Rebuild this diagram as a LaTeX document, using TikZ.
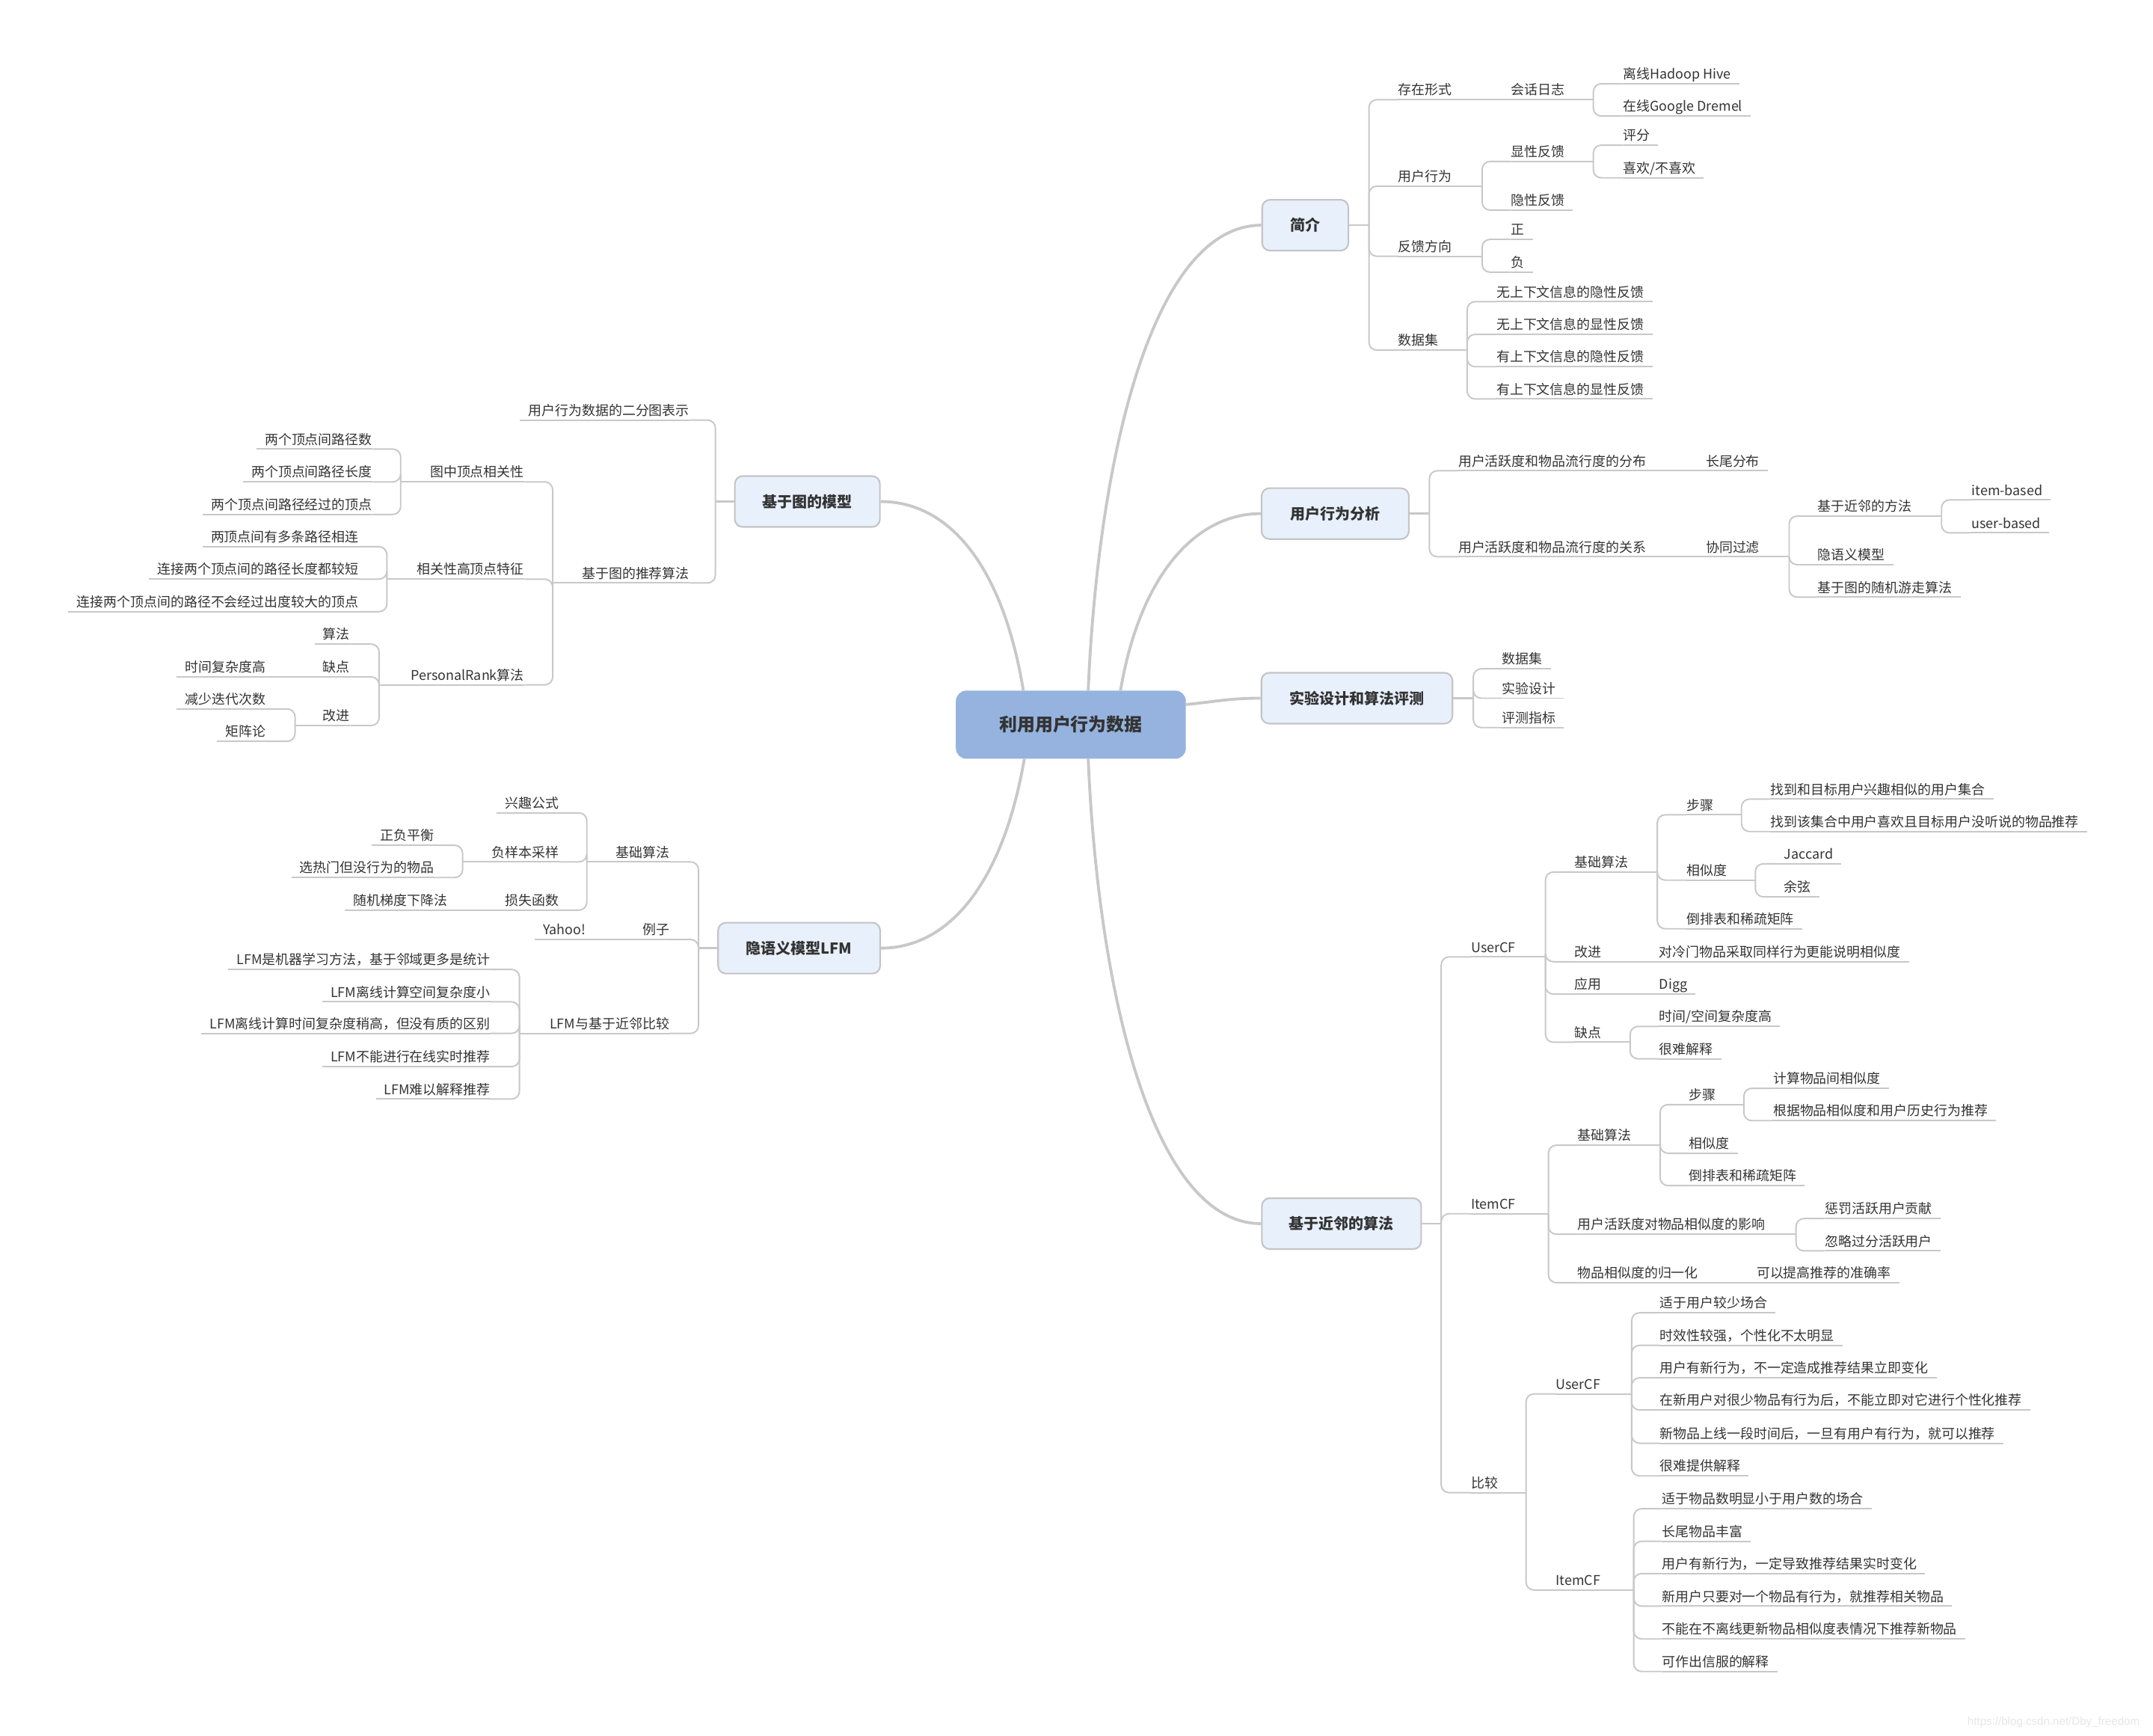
\documentclass[tikz,border=0pt]{standalone}
\usepackage{fontspec}
\setmainfont{Noto Sans CJK SC}
\newfontfamily\markfont{Liberation Sans}
\usepackage{tikz}
\definecolor{txt}{HTML}{333333}
\definecolor{lineg}{HTML}{C8C8C8}
\definecolor{topicf}{HTML}{E8F0FC}
\definecolor{topicd}{HTML}{C4C4C4}
\definecolor{rootf}{HTML}{95B3DE}
\definecolor{markg}{HTML}{E6E6E6}
\newcommand{\fleaf}{\fontsize{5.1pt}{6pt}\selectfont}
\newcommand{\ftopic}{\fontsize{5.7pt}{7pt}\selectfont\bfseries}
\newcommand{\froot}{\fontsize{6.8pt}{8pt}\selectfont\bfseries}

\begin{document}
\begin{tikzpicture}[
x=0.018361cm, y=-0.018361cm,
Limb/.style={draw=lineg, line width=1.1pt},
Stem/.style={draw=lineg, line width=0.7pt},
Twig/.style={draw=lineg, line width=0.55pt, rounded corners=3pt},
RootBox/.style={fill=rootf, rounded corners=4pt, text=txt, font=\froot,
  minimum width=3.074cm, minimum height=0.911cm, inner sep=0pt},
TopicBox/.style={draw=topicd, fill=topicf, line width=0.6pt, rounded corners=3pt,
  text=txt, font=\ftopic, minimum height=0.68cm, inner sep=0pt},
LeafR/.style={anchor=south west, inner xsep=0pt, inner ysep=1pt, text height=4.4pt,
  text depth=0.6pt, text=txt, font=\fleaf,
  append after command={(\tikzlastnode.south west) edge[Twig] ([xshift=3pt]\tikzlastnode.south east)}},
LeafL/.style={anchor=south east, inner xsep=0pt, inner ysep=1pt, text height=4.4pt,
  text depth=0.6pt, text=txt, font=\fleaf,
  append after command={([xshift=-3pt]\tikzlastnode.south west) edge[Twig] (\tikzlastnode.south east)}}
]
\useasboundingbox (0,0) rectangle (1568,1264);

% centre
\node[RootBox] (root) at (779.9,527.7) {利用用户行为数据};
\coordinate (R1) at (792.5,503);
\coordinate (R2) at (816,503);
\coordinate (R3) at (863.6,513);
\coordinate (R4) at (792.5,552.5);
\coordinate (R5) at (745.3,503);
\coordinate (R6) at (746,552.5);

\node[TopicBox, minimum width=1.153cm] (intro) at (950.6,164) {简介};
\node[TopicBox, minimum width=1.968cm] (ua) at (972.4,374) {用户行为分析};
\node[TopicBox, minimum width=2.554cm] (ex) at (988.2,508.4) {实验设计和算法评测};
\node[TopicBox, minimum width=2.13cm] (nb) at (977,891) {基于近邻的算法};
\node[TopicBox, minimum width=1.94cm] (gm) at (588,365.2) {基于图的模型};
\node[TopicBox, minimum width=2.167cm] (lfm) at (582,690.4) {隐语义模型LFM};

\draw[Limb] (R1) .. controls (800,330) and (840,164) .. (intro.west);
\draw[Limb] (R2) .. controls (830,420) and (870,374) .. (ua.west);
\draw[Limb] (R3) .. controls (885,511) and (895,508.4) .. (ex.west);
\draw[Limb] (R4) .. controls (800,725) and (840,891) .. (nb.west);
\draw[Limb] (R5) .. controls (730,410) and (690,365.2) .. (gm.east);
\draw[Limb] (R6) .. controls (730,645) and (690,690.4) .. (lfm.east);

%% ---- 简介
\coordinate (intro-s) at (997,164);
\draw[Stem] (intro.east) -- (intro-s);
\node[LeafR] (form) at (1018,72.6) {存在形式};
\node[LeafR] (beh) at (1018,135.5) {用户行为};
\node[LeafR] (fdir) at (1018,186.6) {反馈方向};
\node[LeafR] (dset) at (1018,255) {数据集};
\foreach \c in {form,beh,fdir,dset} \draw[Twig] (intro-s) |- (\c.south west);

\node[LeafR] (slog) at (1100,72.6) {会话日志};
\draw[Twig] (form.south east) -- (slog.south west);
\coordinate (slog-s) at (1160.4,72.6);
\draw[Twig] (slog.south east) -- (slog-s);
\node[LeafR] (hive) at (1181.6,61) {离线Hadoop Hive};
\node[LeafR] (dremel) at (1181.6,84.5) {在线Google Dremel};
\foreach \c in {hive,dremel} \draw[Twig] (slog-s) |- (\c.south west);

\coordinate (beh-s) at (1079.4,135.5);
\draw[Twig] (beh.south east) -- (beh-s);
\node[LeafR] (expl) at (1100,117.6) {显性反馈};
\node[LeafR] (impl) at (1100,153) {隐性反馈};
\foreach \c in {expl,impl} \draw[Twig] (beh-s) |- (\c.south west);

\coordinate (expl-s) at (1160.4,117.6);
\draw[Twig] (expl.south east) -- (expl-s);
\node[LeafR] (rate) at (1181.6,105.7) {评分};
\node[LeafR] (like) at (1181.6,129.5) {喜欢/不喜欢};
\foreach \c in {rate,like} \draw[Twig] (expl-s) |- (\c.south west);

\coordinate (fdir-s) at (1079.4,186.6);
\draw[Twig] (fdir.south east) -- (fdir-s);
\node[LeafR] (pos) at (1100,174.3) {正};
\node[LeafR] (neg) at (1100,198.2) {负};
\foreach \c in {pos,neg} \draw[Twig] (fdir-s) |- (\c.south west);

\coordinate (dset-s) at (1068.5,255);
\draw[Twig] (dset.south east) -- (dset-s);
\node[LeafR] (ds1) at (1089.5,219.7) {无上下文信息的隐性反馈};
\node[LeafR] (ds2) at (1089.5,243.5) {无上下文信息的显性反馈};
\node[LeafR] (ds3) at (1089.5,267) {有上下文信息的隐性反馈};
\node[LeafR] (ds4) at (1089.5,290.5) {有上下文信息的显性反馈};
\foreach \c in {ds1,ds2,ds3,ds4} \draw[Twig] (dset-s) |- (\c.south west);

%% ---- 用户行为分析
\coordinate (ua-s) at (1041,374);
\draw[Stem] (ua.east) -- (ua-s);
\node[LeafR] (dist) at (1061.7,342.8) {用户活跃度和物品流行度的分布};
\node[LeafR] (rel) at (1061.7,405.4) {用户活跃度和物品流行度的关系};
\foreach \c in {dist,rel} \draw[Twig] (ua-s) |- (\c.south west);

\node[LeafR] (ltail) at (1242,342.8) {长尾分布};
\draw[Twig] (dist.south east) -- (ltail.south west);
\node[LeafR] (cf) at (1242,405.4) {协同过滤};
\draw[Twig] (rel.south east) -- (cf.south west);

\coordinate (cf-s) at (1303,405.4);
\draw[Twig] (cf.south east) -- (cf-s);
\node[LeafR] (knn) at (1323.6,375.8) {基于近邻的方法};
\node[LeafR] (lsm) at (1323.6,411.2) {隐语义模型};
\node[LeafR] (walk) at (1323.6,434.8) {基于图的随机游走算法};
\foreach \c in {knn,lsm,walk} \draw[Twig] (cf-s) |- (\c.south west);

\coordinate (knn-s) at (1414,375.8);
\draw[Twig] (knn.south east) -- (knn-s);
\node[LeafR] (ib) at (1435.6,364) {item-based};
\node[LeafR] (ub) at (1435.6,388) {user-based};
\foreach \c in {ib,ub} \draw[Twig] (knn-s) |- (\c.south west);

%% ---- 实验设计和算法评测
\coordinate (ex-s) at (1073,508.4);
\draw[Stem] (ex.east) -- (ex-s);
\node[LeafR] (exd) at (1093.5,487) {数据集};
\node[LeafR] (exs) at (1093.5,508.4) {实验设计};
\node[LeafR] (exm) at (1093.5,529.8) {评测指标};
\foreach \c in {exd,exs,exm} \draw[Twig] (ex-s) |- (\c.south west);

%% ---- 基于近邻的算法
\coordinate (nb-s) at (1049.6,891);
\draw[Stem] (nb.east) -- (nb-s);
\node[LeafR] (ucf) at (1071,696.8) {UserCF};
\node[LeafR] (icf) at (1071,883.8) {ItemCF};
\node[LeafR] (cmp) at (1071,1086.9) {比较};
\foreach \c in {ucf,icf,cmp} \draw[Twig] (nb-s) |- (\c.south west);

% UserCF
\coordinate (ucf-s) at (1125.5,696.8);
\draw[Twig] (ucf.south east) -- (ucf-s);
\node[LeafR] (ubase) at (1146.5,635) {基础算法};
\node[LeafR] (uimp) at (1146.5,700.3) {改进};
\node[LeafR] (uapp) at (1146.5,723.9) {应用};
\node[LeafR] (ucon) at (1146.5,758.9) {缺点};
\foreach \c in {ubase,uimp,uapp,ucon} \draw[Twig] (ucf-s) |- (\c.south west);

\coordinate (ubase-s) at (1207,635);
\draw[Twig] (ubase.south east) -- (ubase-s);
\node[LeafR] (ustep) at (1228,593.3) {步骤};
\node[LeafR] (usim) at (1228,640.9) {相似度};
\node[LeafR] (uinv) at (1228,676.3) {倒排表和稀疏矩阵};
\foreach \c in {ustep,usim,uinv} \draw[Twig] (ubase-s) |- (\c.south west);

\coordinate (ustep-s) at (1268.3,593.3);
\draw[Twig] (ustep.south east) -- (ustep-s);
\node[LeafR] (us1) at (1289,581.9) {找到和目标用户兴趣相似的用户集合};
\node[LeafR] (us2) at (1289,605.5) {找到该集合中用户喜欢且目标用户没听说的物品推荐};
\foreach \c in {us1,us2} \draw[Twig] (ustep-s) |- (\c.south west);

\coordinate (usim-s) at (1278.4,640.9);
\draw[Twig] (usim.south east) -- (usim-s);
\node[LeafR] (jac) at (1299,629) {Jaccard};
\node[LeafR] (cosn) at (1299,653) {余弦};
\foreach \c in {jac,cosn} \draw[Twig] (usim-s) |- (\c.south west);

\node[LeafR] (uimp1) at (1208,700.3) {对冷门物品采取同样行为更能说明相似度};
\draw[Twig] (uimp.south east) -- (uimp1.south west);
\node[LeafR] (digg) at (1208,723.9) {Digg};
\draw[Twig] (uapp.south east) -- (digg.south west);

\coordinate (ucon-s) at (1187.2,758.9);
\draw[Twig] (ucon.south east) -- (ucon-s);
\node[LeafR] (ucon1) at (1208,747.4) {时间/空间复杂度高};
\node[LeafR] (ucon2) at (1208,771) {很难解释};
\foreach \c in {ucon1,ucon2} \draw[Twig] (ucon-s) |- (\c.south west);

% ItemCF
\coordinate (icf-s) at (1127.7,883.8);
\draw[Twig] (icf.south east) -- (icf-s);
\node[LeafR] (ibase) at (1148.5,833.9) {基础算法};
\node[LeafR] (iact) at (1148.5,898.7) {用户活跃度对物品相似度的影响};
\node[LeafR] (inorm) at (1148.5,934) {物品相似度的归一化};
\foreach \c in {ibase,iact,inorm} \draw[Twig] (icf-s) |- (\c.south west);

\coordinate (ibase-s) at (1209,833.9);
\draw[Twig] (ibase.south east) -- (ibase-s);
\node[LeafR] (istep) at (1229.8,804.3) {步骤};
\node[LeafR] (isim) at (1229.8,839.7) {相似度};
\node[LeafR] (iinv) at (1229.8,863.3) {倒排表和稀疏矩阵};
\foreach \c in {istep,isim,iinv} \draw[Twig] (ibase-s) |- (\c.south west);

\coordinate (istep-s) at (1270,804.3);
\draw[Twig] (istep.south east) -- (istep-s);
\node[LeafR] (is1) at (1291,792.5) {计算物品间相似度};
\node[LeafR] (is2) at (1291,816) {根据物品相似度和用户历史行为推荐};
\foreach \c in {is1,is2} \draw[Twig] (istep-s) |- (\c.south west);

\coordinate (iact-s) at (1308,898.7);
\draw[Twig] (iact.south east) -- (iact-s);
\node[LeafR] (ia1) at (1328.7,887.3) {惩罚活跃用户贡献};
\node[LeafR] (ia2) at (1328.7,910.8) {忽略过分活跃用户};
\foreach \c in {ia1,ia2} \draw[Twig] (iact-s) |- (\c.south west);

\node[LeafR] (inorm1) at (1279,934) {可以提高推荐的准确率};
\draw[Twig] (inorm.south east) -- (inorm1.south west);

% 比较
\coordinate (cmp-s) at (1111.4,1086.9);
\draw[Twig] (cmp.south east) -- (cmp-s);
\node[LeafR] (cu) at (1132.8,1015) {UserCF};
\node[LeafR] (ci) at (1132.8,1157.8) {ItemCF};
\foreach \c in {cu,ci} \draw[Twig] (cmp-s) |- (\c.south west);

\coordinate (cu-s) at (1188.3,1015);
\draw[Twig] (cu.south east) -- (cu-s);
\node[LeafR] (cu1) at (1208.5,955.9) {适于用户较少场合};
\node[LeafR] (cu2) at (1208.5,979.6) {时效性较强，个性化不太明显};
\node[LeafR] (cu3) at (1208.5,1003.3) {用户有新行为，不一定造成推荐结果立即变化};
\node[LeafR] (cu4) at (1208.5,1026.7) {在新用户对很少物品有行为后，不能立即对它进行个性化推荐};
\node[LeafR] (cu5) at (1208.5,1050.9) {新物品上线一段时间后，一旦有用户有行为，就可以推荐};
\node[LeafR] (cu6) at (1208.5,1074.7) {很难提供解释};
\foreach \c in {cu1,cu2,cu3,cu4,cu5,cu6} \draw[Twig] (cu-s) |- (\c.south west);

\coordinate (ci-s) at (1189.8,1157.8);
\draw[Twig] (ci.south east) -- (ci-s);
\node[LeafR] (ci1) at (1210,1098.6) {适于物品数明显小于用户数的场合};
\node[LeafR] (ci2) at (1210,1122.3) {长尾物品丰富};
\node[LeafR] (ci3) at (1210,1145.8) {用户有新行为，一定导致推荐结果实时变化};
\node[LeafR] (ci4) at (1210,1169.5) {新用户只要对一个物品有行为，就推荐相关物品};
\node[LeafR] (ci5) at (1210,1193.4) {不能在不离线更新物品相似度表情况下推荐新物品};
\node[LeafR] (ci6) at (1210,1217.1) {可作出信服的解释};
\foreach \c in {ci1,ci2,ci3,ci4,ci5,ci6} \draw[Twig] (ci-s) |- (\c.south west);

%% ---- 基于图的模型 (left)
\coordinate (gm-s) at (521,365.2);
\draw[Stem] (gm.west) -- (gm-s);
\node[LeafL] (bip) at (502.4,305.9) {用户行为数据的二分图表示};
\node[LeafL] (grec) at (502.4,424.5) {基于图的推荐算法};
\foreach \c in {bip,grec} \draw[Twig] (gm-s) |- (\c.south east);

\coordinate (grec-s) at (402.5,424.5);
\draw[Twig] (grec.south west) -- (grec-s);
\node[LeafL] (vrel) at (382,350.9) {图中顶点相关性};
\node[LeafL] (vfeat) at (382,421.7) {相关性高顶点特征};
\node[LeafL] (prank) at (382,498.7) {PersonalRank算法};
\foreach \c in {vrel,vfeat,prank} \draw[Twig] (grec-s) |- (\c.south east);

\coordinate (vrel-s) at (291.8,350.9);
\draw[Twig] (vrel.south west) -- (vrel-s);
\node[LeafL] (vr1) at (271.4,327) {两个顶点间路径数};
\node[LeafL] (vr2) at (271.4,350.9) {两个顶点间路径长度};
\node[LeafL] (vr3) at (271.4,374.6) {两个顶点间路径经过的顶点};
\foreach \c in {vr1,vr2,vr3} \draw[Twig] (vrel-s) |- (\c.south east);

\coordinate (vfeat-s) at (281.8,421.7);
\draw[Twig] (vfeat.south west) -- (vfeat-s);
\node[LeafL] (vf1) at (261.4,398.1) {两顶点间有多条路径相连};
\node[LeafL] (vf2) at (261.4,421.7) {连接两个顶点间的路径长度都较短};
\node[LeafL] (vf3) at (261.4,445.4) {连接两个顶点间的路径不会经过出度较大的顶点};
\foreach \c in {vf1,vf2,vf3} \draw[Twig] (vfeat-s) |- (\c.south east);

\coordinate (prank-s) at (276.1,498.7);
\draw[Twig] (prank.south west) -- (prank-s);
\node[LeafL] (palg) at (255.1,469) {算法};
\node[LeafL] (pcon) at (255.1,492.9) {缺点};
\node[LeafL] (pimp) at (255.1,528.3) {改进};
\foreach \c in {palg,pcon,pimp} \draw[Twig] (prank-s) |- (\c.south east);

\node[LeafL] (pcon1) at (193.8,492.9) {时间复杂度高};
\draw[Twig] (pcon.south west) -- (pcon1.south east);

\coordinate (pimp-s) at (214.9,528.3);
\draw[Twig] (pimp.south west) -- (pimp-s);
\node[LeafL] (pi1) at (193.8,516.2) {减少迭代次数};
\node[LeafL] (pi2) at (193.8,539.8) {矩阵论};
\foreach \c in {pi1,pi2} \draw[Twig] (pimp-s) |- (\c.south east);

%% ---- 隐语义模型LFM (left)
\coordinate (lfm-s) at (508.7,690.4);
\draw[Stem] (lfm.west) -- (lfm-s);
\node[LeafL] (lbase) at (487.8,627.6) {基础算法};
\node[LeafL] (lex) at (487.8,684.1) {例子};
\node[LeafL] (lcmp) at (487.8,752.5) {LFM与基于近邻比较};
\foreach \c in {lbase,lex,lcmp} \draw[Twig] (lfm-s) |- (\c.south east);

\coordinate (lbase-s) at (427.4,627.6);
\draw[Twig] (lbase.south west) -- (lbase-s);
\node[LeafL] (lint) at (407.2,591.9) {兴趣公式};
\node[LeafL] (lneg) at (407.2,627.6) {负样本采样};
\node[LeafL] (lloss) at (407.2,662.7) {损失函数};
\foreach \c in {lint,lneg,lloss} \draw[Twig] (lbase-s) |- (\c.south east);

\coordinate (lneg-s) at (336.9,627.6);
\draw[Twig] (lneg.south west) -- (lneg-s);
\node[LeafL] (ln1) at (316.3,615.5) {正负平衡};
\node[LeafL] (ln2) at (316.3,639) {选热门但没行为的物品};
\foreach \c in {ln1,ln2} \draw[Twig] (lneg-s) |- (\c.south east);

\node[LeafL] (sgd) at (326.2,662.7) {随机梯度下降法};
\draw[Twig] (lloss.south west) -- (sgd.south east);
\node[LeafL] (yahoo) at (427,684.1) {Yahoo!};
\draw[Twig] (lex.south west) -- (yahoo.south east);

\coordinate (lcmp-s) at (378.3,752.5);
\draw[Twig] (lcmp.south west) -- (lcmp-s);
\node[LeafL] (lc1) at (357.4,705.9) {LFM是机器学习方法，基于邻域更多是统计};
\node[LeafL] (lc2) at (357.4,729.5) {LFM离线计算空间复杂度小};
\node[LeafL] (lc3) at (357.4,752.5) {LFM离线计算时间复杂度稍高，但没有质的区别};
\node[LeafL] (lc4) at (357.4,776.7) {LFM不能进行在线实时推荐};
\node[LeafL] (lc5) at (357.4,800.3) {LFM难以解释推荐};
\foreach \c in {lc1,lc2,lc3,lc4,lc5} \draw[Twig] (lcmp-s) |- (\c.south east);

% watermark
\node[anchor=west, inner sep=0pt, text=markg, font=\markfont\fontsize{4.3pt}{5pt}\selectfont]
  (mark) at (1432.5,1254.2) {https://blog.csdn.net/Dby\_freedom};

\end{tikzpicture}
\end{document}
